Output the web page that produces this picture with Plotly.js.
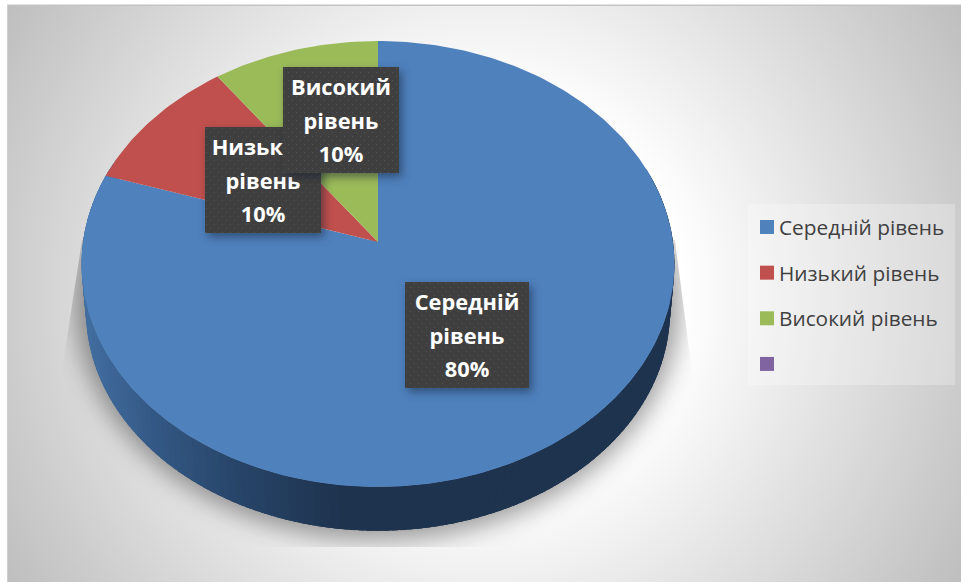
<!DOCTYPE html>
<html><head><meta charset="utf-8">
<script src="https://cdn.plot.ly/plotly-3.0.1.min.js"></script>
<style>
html,body{margin:0;padding:0;background:#fff;overflow:hidden}
#chart{width:961px;height:583px}
.annotation-text-g rect.bg{fill:url(#dots) !important;filter:drop-shadow(3px 4px 4px rgba(20,30,50,.5))}
</style></head><body>
<svg width="0" height="0" style="position:absolute"><defs>
<pattern id="dots" width="8" height="8" patternUnits="userSpaceOnUse">
<rect width="8" height="8" fill="#3f3f3f"/><rect x="1" y="1" width="1" height="1" fill="#545454"/><rect x="5" y="5" width="1" height="1" fill="#545454"/>
</pattern></defs></svg>
<div id="chart"></div>
<script>
const categories=['Середній рівень','Низький рівень','Високий рівень',''];
const values=[80,10,10,0];
const colors=['#4f81bd','#c0504d','#9bbb59','#8064a2'];
const labelCenters=[[467,335],[263,180],[341,120]];

// perspective disc → chart space
const cx=378,cy=242,bx=295,ay=220.8,k=0.0987,depth=44.5,shrink=0.985;
function rim(deg,low){
  const t=deg*Math.PI/180,u=Math.sin(t),v=Math.cos(t),d=1+k*v;
  const s=low?shrink:1;
  return [cx+s*bx*u/d, cy-s*ay*v/d+(low?depth+3:0)];
}
function lerp(a,b,f){return a.map((c,i)=>Math.round(c+(b[i]-c)*f));}
function wallColor(x){
  const st=[[85,[66,110,160]],[150,[52,89,134]],[240,[39,68,104]],[340,[30,51,78]],[700,[30,51,78]]];
  for(let i=0;i<st.length-1;i++){
    if(x<=st[i+1][0]){const f=Math.max(0,(x-st[i][0])/(st[i+1][0]-st[i][0]));return 'rgb('+lerp(st[i][1],st[i+1][1],f).join(',')+')';}
  }
  return 'rgb(30,51,78)';
}
const traces=[];
// side wall: painted right-to-left so each band overlaps the previous one
for(let a=70;a<290;a+=1.5){
  const p=[rim(a,false),rim(a+4,false),rim(a+4,true),rim(a,true),rim(a,false)];
  const col=wallColor(rim(a+0.75,false)[0]);
  traces.push({type:'scatter',mode:'lines',x:p.map(q=>q[0]),y:p.map(q=>q[1]),fill:'toself',fillcolor:col,line:{color:col,width:0},showlegend:false,hoverinfo:'skip'});
}
// top face slices, clockwise from 12 o'clock
const total=values.reduce((a,b)=>a+b,0);
let start=0;
values.forEach((val,i)=>{
  const span=val/total*360,xs=[cx],ys=[cy];
  if(span>0){
    const n=Math.ceil(span);
    for(let j=0;j<=n;j++){const q=rim(start+span*j/n,false);xs.push(q[0]);ys.push(q[1]);}
  }
  xs.push(cx);ys.push(cy);
  traces.push({type:'scatter',mode:'lines',x:span>0?xs:[null],y:span>0?ys:[null],fill:'toself',fillcolor:colors[i],line:{color:colors[i],width:0},showlegend:false,hoverinfo:'text',text:categories[i]});
  start+=span;
});
// legend entries
categories.forEach((name,i)=>{
  traces.push({type:'scatter',mode:'markers',x:[null],y:[null],name:name||' ',legendgroup:'g'+i,
    marker:{symbol:'square',size:14,color:colors[i]},showlegend:true});
});
const annotations=[];
categories.forEach((name,i)=>{
  if(!values[i])return;
  const w=name.split(' ');
  annotations.push({x:labelCenters[i][0],y:labelCenters[i][1],xref:'x',yref:'y',showarrow:false,
    text:w[0]+'<br>'+w[1]+'<br>'+Math.round(values[i]/total*100)+'%',
    font:{family:'Open Sans',size:21.8,color:'#fff',weight:700},align:'center',
    width:i==0?124:116,height:106,bgcolor:'#3f3f3f',borderpad:0,borderwidth:0});
});
const svg=`<svg xmlns="http://www.w3.org/2000/svg" width="961" height="583" viewBox="0 0 961 583">
<defs><radialGradient id="g" gradientUnits="userSpaceOnUse" cx="484" cy="294" r="552">
<stop offset="0.36" stop-color="#ffffff"/><stop offset="1" stop-color="#bfbfbf"/></radialGradient>
<filter id="b" x="-20%" y="-20%" width="140%" height="140%"><feGaussianBlur stdDeviation="12"/></filter>
<clipPath id="c"><polygon points="82,240 60,383 60,547 696,547 693,380 675,240"/></clipPath></defs>
<rect width="961" height="583" fill="#fff"/>
<rect x="7" y="5" width="954" height="577" fill="url(#g)"/>
<rect x="7" y="4.5" width="954" height="1.5" fill="#c4c4c4"/>
<rect x="7" y="5" width="1" height="577" fill="#cfcfcf"/>
<g clip-path="url(#c)"><ellipse cx="378" cy="300" rx="303" ry="240" fill="#000" fill-opacity="0.38" filter="url(#b)"/></g>
<rect x="748" y="204" width="207" height="181" fill="#fff" fill-opacity="0.25"/>
</svg>`;
const layout={width:961,height:583,margin:{l:0,r:0,t:0,b:0},paper_bgcolor:'rgba(0,0,0,0)',plot_bgcolor:'rgba(0,0,0,0)',
  xaxis:{range:[0,961],visible:false,fixedrange:true},
  yaxis:{range:[583,0],visible:false,fixedrange:true},
  images:[{source:'data:image/svg+xml,'+encodeURIComponent(svg),xref:'paper',yref:'paper',x:0,y:1,sizex:1,sizey:1,sizing:'stretch',layer:'below',xanchor:'left',yanchor:'top'}],
  annotations,
  legend:{x:747/961,y:1-207/583,xanchor:'left',yanchor:'top',bgcolor:'rgba(0,0,0,0)',tracegroupgap:15.6,itemsizing:'trace',itemclick:false,itemdoubleclick:false,
    font:{family:'Open Sans',size:20.8,color:'#404040'}},
  showlegend:true,hovermode:'closest'};
Plotly.newPlot('chart',traces,layout,{displayModeBar:false,responsive:false}).then(()=>{
  document.querySelectorAll('.legendtext').forEach(t=>t.setAttribute('x',32));
  document.querySelectorAll('.annotation-text-g text').forEach(t=>{
    const L=t.querySelectorAll('tspan.line');
    L.forEach((s,i)=>s.setAttribute('dy',(i*1.3+(i-1)*0.215)+'em'));
  });
});
</script></body></html>
